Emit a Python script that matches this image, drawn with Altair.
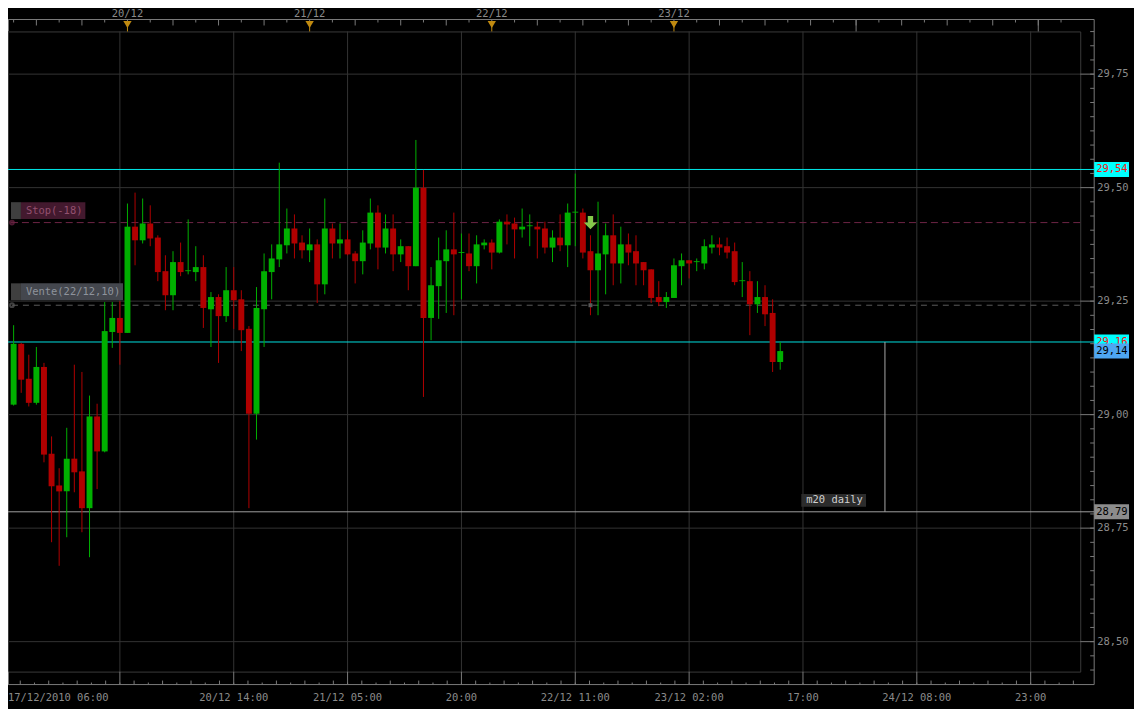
import altair as alt
import numpy as np
import pandas as pd

# ---------------- data ----------------
open_ = [29.022, 29.156, 29.079, 29.026, 29.105, 28.914, 28.844, 28.831, 28.903, 28.875,
         28.794, 28.996, 28.919, 29.182, 29.213, 29.180, 29.414, 29.384, 29.421, 29.390,
         29.316, 29.263, 29.336, 29.316, 29.314, 29.325, 29.232, 29.259, 29.217, 29.274,
         29.254, 29.189, 29.002, 29.232, 29.314, 29.342, 29.373, 29.410, 29.379, 29.362,
         29.375, 29.287, 29.410, 29.377, 29.386, 29.355, 29.338, 29.377, 29.445, 29.368,
         29.410, 29.353, 29.371, 29.327, 29.500, 29.213, 29.283, 29.338, 29.364, 29.356,
         29.355, 29.327, 29.373, 29.379, 29.357, 29.425, 29.421, 29.408, 29.415, 29.414,
         29.410, 29.368, 29.390, 29.373, 29.445, 29.445, 29.360, 29.318, 29.353, 29.395,
         29.333, 29.375, 29.360, 29.336, 29.320, 29.259, 29.248, 29.257, 29.327, 29.340,
         29.336, 29.333, 29.368, 29.375, 29.371, 29.360, 29.294, 29.294, 29.243, 29.259,
         29.224, 29.116]
high = [29.197, 29.158, 29.132, 29.149, 29.114, 28.952, 28.882, 28.971, 29.110, 29.094,
        29.042, 29.024, 29.248, 29.248, 29.250, 29.465, 29.489, 29.476, 29.461, 29.395,
        29.351, 29.360, 29.379, 29.430, 29.371, 29.351, 29.270, 29.265, 29.325, 29.325,
        29.274, 29.195, 29.281, 29.355, 29.375, 29.555, 29.454, 29.441, 29.395, 29.410,
        29.386, 29.476, 29.421, 29.421, 29.406, 29.360, 29.406, 29.476, 29.461, 29.441,
        29.441, 29.386, 29.371, 29.605, 29.539, 29.325, 29.390, 29.406, 29.445, 29.399,
        29.399, 29.395, 29.386, 29.386, 29.430, 29.441, 29.434, 29.454, 29.441, 29.425,
        29.425, 29.406, 29.441, 29.465, 29.531, 29.454, 29.395, 29.469, 29.421, 29.441,
        29.414, 29.399, 29.395, 29.336, 29.320, 29.294, 29.270, 29.344, 29.355, 29.340,
        29.344, 29.386, 29.395, 29.390, 29.390, 29.379, 29.336, 29.316, 29.294, 29.285,
        29.254, 29.160]
low = [29.020, 29.048, 29.018, 29.022, 28.895, 28.719, 28.667, 28.730, 28.829, 28.741,
       28.686, 28.836, 28.917, 29.147, 29.110, 29.180, 29.329, 29.377, 29.371, 29.294,
       29.230, 29.230, 29.305, 29.309, 29.294, 29.191, 29.149, 29.114, 29.204, 29.189,
       29.140, 28.794, 28.945, 29.149, 29.254, 29.325, 29.355, 29.344, 29.344, 29.336,
       29.246, 29.265, 29.344, 29.344, 29.351, 29.289, 29.309, 29.364, 29.320, 29.355,
       29.316, 29.336, 29.274, 29.327, 29.039, 29.164, 29.211, 29.224, 29.219, 29.254,
       29.316, 29.289, 29.364, 29.320, 29.355, 29.375, 29.344, 29.390, 29.371, 29.344,
       29.355, 29.336, 29.360, 29.325, 29.371, 29.344, 29.219, 29.219, 29.265, 29.285,
       29.289, 29.329, 29.285, 29.285, 29.246, 29.239, 29.235, 29.257, 29.285, 29.300,
       29.316, 29.320, 29.355, 29.351, 29.344, 29.285, 29.259, 29.175, 29.224, 29.195,
       29.094, 29.099]
close = [29.156, 29.077, 29.026, 29.105, 28.912, 28.842, 28.831, 28.903, 28.873, 28.794,
         28.996, 28.919, 29.184, 29.213, 29.180, 29.414, 29.384, 29.421, 29.388, 29.314,
         29.263, 29.336, 29.314, 29.318, 29.325, 29.235, 29.259, 29.217, 29.274, 29.252,
         29.186, 29.002, 29.235, 29.316, 29.344, 29.375, 29.410, 29.377, 29.362, 29.375,
         29.287, 29.410, 29.377, 29.386, 29.353, 29.338, 29.379, 29.445, 29.368, 29.410,
         29.353, 29.371, 29.327, 29.500, 29.213, 29.285, 29.340, 29.364, 29.353, 29.358,
         29.327, 29.375, 29.379, 29.357, 29.425, 29.419, 29.408, 29.414, 29.417, 29.408,
         29.368, 29.390, 29.373, 29.445, 29.447, 29.357, 29.318, 29.355, 29.395, 29.333,
         29.375, 29.357, 29.333, 29.318, 29.257, 29.248, 29.259, 29.329, 29.340, 29.333,
         29.338, 29.371, 29.375, 29.368, 29.357, 29.292, 29.296, 29.243, 29.259, 29.221,
         29.116, 29.140]

# time axis (candle index based, trading hours only)
grid_idx = [14, 29, 44, 59, 74, 89, 104, 119, 134]
bottom_labels = ["", "20/12 14:00", "21/12 05:00", "20:00", "22/12 11:00",
                 "23/12 02:00", "17:00", "24/12 08:00", "23:00"]
first_label = "17/12/2010 06:00"
day_idx = [15, 39, 63, 87]
day_labels = ["20/12", "21/12", "22/12", "23/12"]
future_day_idx = [111, 135]

price_ticks = [28.5, 28.75, 29.0, 29.25, 29.5, 29.75]

# horizontal levels
level_price = [29.54, 29.16, 28.786]
level_line = ["#00e8e8", "#00e0e0", "#a0a0a0"]
level_box = ["#00ffff", "#00ffff", "#8c8c8c"]
level_text = ["#ff1010", "#ff1010", "#000000"]

# orders
order_price = [29.423, 29.241]
order_label = ["Stop(-18)", "Vente(22/12,10)"]
order_line = ["#6e2446", "#5c5c5c"]
order_box = ["#43192e", "#44474e"]
order_text = ["#93506f", "#8e939c"]

signal_idx = [76]
signal_price = [29.423]
entry_idx = [76]
entry_price = [29.241]

m20_idx = [114.8]
m20_top = [29.16]
m20_bottom = [28.786]
m20_label = ["m20 daily"]

# ---------------- layout / style ----------------
W, H = 1077, 643
X_DOMAIN = [-0.74, 140.53]
Y_DOMAIN = [28.434, 29.844]
GREEN, RED = "#00b000", "#b00000"
AX = "#7a7a7a"
TXT = "#8a8a8a"
FONT = "DejaVu Sans Mono"
FS = 10.5

xs = alt.Scale(domain=X_DOMAIN, nice=False, zero=False)
ys = alt.Scale(domain=Y_DOMAIN, nice=False, zero=False)


def X(f="idx"):
    return alt.X(f"{f}:Q", scale=xs, axis=None)


def Y(f):
    return alt.Y(f"{f}:Q", scale=ys, axis=None)


def fmt(v):
    return f"{v:.2f}".replace(".", ",")


df = pd.DataFrame({"idx": np.arange(len(open_)), "o": open_, "h": high, "l": low, "c": close})
df["dir"] = np.where(df["c"] >= df["o"], "up", "down")
col = alt.Color("dir:N", scale=alt.Scale(domain=["up", "down"], range=[GREEN, RED]), legend=None)

layers = []

# horizontal grid + right axis labels
hgrid = pd.DataFrame({"p": price_ticks, "lab": [fmt(v) for v in price_ticks]})
layers.append(alt.Chart(hgrid).mark_rule(color="#333333", strokeWidth=1).encode(y=Y("p")))
layers.append(alt.Chart(hgrid).mark_text(font=FONT, fontSize=FS, color=TXT, align="left",
                                         baseline="middle").encode(
    x=alt.value(W + 17), y=Y("p"), text="lab:N"))
# vertical grid
vgrid = pd.DataFrame({"idx": grid_idx})
layers.append(alt.Chart(vgrid).mark_rule(color="#333333", strokeWidth=1).encode(x=X()))

# frame strips (top / bottom / right)
fr = alt.Chart(pd.DataFrame({"k": [0]}))
layers += [
    fr.mark_rule(color=AX).encode(x=alt.value(0), x2=alt.value(W + 14), y=alt.value(-12)),
    fr.mark_rule(color=AX).encode(x=alt.value(0), x2=alt.value(W + 14), y=alt.value(H + 13)),
    fr.mark_rule(color=AX).encode(x=alt.value(W + 14), y=alt.value(-12), y2=alt.value(H + 13)),
    fr.mark_rule(color=AX).encode(x=alt.value(0.5), y=alt.value(-12), y2=alt.value(0)),
    fr.mark_rule(color=AX).encode(x=alt.value(0.5), y=alt.value(H), y2=alt.value(H + 13)),
]

# top ticks (every 3 hours, longer every 6)
top_t = np.arange(-3, 141, 3)
top_df = pd.DataFrame({"idx": top_t, "major": ((top_t - 15) % 6 == 0).astype(int)})
top_df = top_df[(top_df.idx >= X_DOMAIN[0]) & (top_df.idx <= X_DOMAIN[1])]
layers.append(alt.Chart(top_df[top_df.major == 1]).mark_rule(color=AX).encode(
    x=X(), y=alt.value(-12), y2=alt.value(-6)))
layers.append(alt.Chart(top_df[top_df.major == 0]).mark_rule(color=AX).encode(
    x=X(), y=alt.value(-12), y2=alt.value(-9)))
fut = pd.DataFrame({"idx": future_day_idx})
layers.append(alt.Chart(fut).mark_rule(color=AX).encode(x=X(), y=alt.value(-12), y2=alt.value(0)))

days = pd.DataFrame({"idx": day_idx, "lab": day_labels})
layers.append(alt.Chart(days).mark_rule(color="#c08a10").encode(x=X(), y=alt.value(-6), y2=alt.value(0)))
layers.append(alt.Chart(days).mark_point(shape="triangle-down", filled=True, size=70,
                                         color="#c08a10", opacity=1).encode(x=X(), y=alt.value(-7)))
layers.append(alt.Chart(days).mark_text(font=FONT, fontSize=FS, color=TXT, baseline="middle").encode(
    x=X(), y=alt.value(-17.5), text="lab:N"))

# bottom ticks
bt = np.arange(-1, 141, 15 / 8)
bt_df = pd.DataFrame({"idx": bt, "k": np.arange(len(bt)) % 2})
bt_df = bt_df[(bt_df.idx >= X_DOMAIN[0]) & (bt_df.idx <= X_DOMAIN[1])]
layers.append(alt.Chart(bt_df[bt_df.k == 1]).mark_rule(color=AX).encode(
    x=X(), y=alt.value(H + 9), y2=alt.value(H + 13)))
layers.append(alt.Chart(bt_df[bt_df.k == 0]).mark_rule(color=AX).encode(
    x=X(), y=alt.value(H + 11), y2=alt.value(H + 13)))
layers.append(alt.Chart(vgrid).mark_rule(color=AX).encode(x=X(), y=alt.value(H), y2=alt.value(H + 13)))
blab = pd.DataFrame({"idx": grid_idx, "lab": bottom_labels})
blab = blab[blab.lab != ""]
layers.append(alt.Chart(blab).mark_text(font=FONT, fontSize=FS, color=TXT, baseline="middle").encode(
    x=X(), y=alt.value(H + 27), text="lab:N"))
flab = pd.DataFrame({"idx": [X_DOMAIN[0]], "lab": [first_label]})
layers.append(alt.Chart(flab).mark_text(font=FONT, fontSize=FS, color=TXT, baseline="middle",
                                        align="left").encode(x=X(), y=alt.value(H + 27), text="lab:N"))

# right ticks
rt = np.arange(28.4375, 29.85, 0.03125)
rt_df = pd.DataFrame({"p": rt})
rt_df = rt_df[(rt_df.p >= Y_DOMAIN[0]) & (rt_df.p <= Y_DOMAIN[1])]
layers.append(alt.Chart(rt_df).mark_rule(color=AX).encode(
    y=Y("p"), x=alt.value(W + 10), x2=alt.value(W + 14)))
layers.append(alt.Chart(hgrid).mark_rule(color=AX).encode(
    y=Y("p"), x=alt.value(W), x2=alt.value(W + 14)))

# order lines (stop / vente)
for p, lab, lc, bc, tc, dash, yo in zip(order_price, order_label, order_line, order_box, order_text,
                                        [[7, 4], [6, 5]], [-12, -13.5]):
    od = pd.DataFrame({"p": [p], "lab": [lab]})
    oc = alt.Chart(od)
    bw = len(lab) * 6.3 + 8
    layers += [
        oc.mark_rule(color=lc, strokeDash=dash, strokeWidth=1).encode(y=Y("p")),
        oc.mark_point(shape="circle", size=14, color=lc, filled=False).encode(x=alt.value(4), y=Y("p")),
        oc.mark_rule(color="#3f3f3f", strokeWidth=17, yOffset=yo).encode(
            x=alt.value(3), x2=alt.value(13), y=Y("p")),
        oc.mark_rule(color=bc, strokeWidth=17, yOffset=yo).encode(
            x=alt.value(13), x2=alt.value(13 + bw), y=Y("p")),
        oc.mark_text(font=FONT, fontSize=FS, color=tc, align="left", baseline="middle", dy=yo).encode(
            x=alt.value(18), y=Y("p"), text="lab:N"),
    ]

# level lines
lv = pd.DataFrame({"p": level_price, "lc": level_line, "bc": level_box, "tc": level_text,
                   "lab": [fmt(v) for v in level_price]})
layers.append(alt.Chart(lv).mark_rule(strokeWidth=1).encode(
    x=alt.value(0), x2=alt.value(W + 14), y=Y("p"), color=alt.Color("lc:N", scale=None)))

# m20 daily marker
m20 = pd.DataFrame({"idx": m20_idx, "top": m20_top, "bot": m20_bottom, "lab": m20_label})
mc = alt.Chart(m20)
layers += [
    mc.mark_rule(color="#a8a8a8").encode(x=X(), y=Y("top"), y2="bot"),
    mc.mark_rule(color="#2c2c2c", strokeWidth=13, yOffset=-11.5, xOffset=-84, x2Offset=-19).encode(
        x=X(), x2="idx", y=Y("bot")),
    mc.mark_text(font=FONT, fontSize=FS, color="#d0d0d0", align="left", baseline="middle",
                 dx=-79, dy=-11.5).encode(x=X(), y=Y("bot"), text="lab:N"),
]

# candles
layers.append(alt.Chart(df).mark_rule(strokeWidth=1).encode(x=X(), y=Y("l"), y2="h", color=col))
layers.append(alt.Chart(df).transform_calculate(x0="datum.idx - 0.39", x1="datum.idx + 0.39")
              .mark_rect().encode(x=X("x0"), x2="x1", y=Y("o"), y2="c", color=col))

# signal arrow and entry point
sig = pd.DataFrame({"idx": signal_idx, "p": signal_price})
layers.append(alt.Chart(sig).mark_point(
    shape="M-0.4,-1L0.4,-1L0.4,0L1,0L0,1L-1,0L-0.4,0Z", filled=True, size=180,
    color="#84c84a", opacity=1).encode(x=X(), y=Y("p")))
ent = pd.DataFrame({"idx": entry_idx, "p": entry_price})
layers.append(alt.Chart(ent).mark_square(size=16, color="#5a5a5a", opacity=1).encode(x=X(), y=Y("p")))

# right-side price boxes
last = pd.DataFrame({"p": [close[-1]], "bc": ["#4ea6f2"], "tc": ["#000000"], "lab": [fmt(close[-1])]})
for d in [lv, last]:
    ch = alt.Chart(d)
    layers += [
        ch.mark_rule(strokeWidth=15).encode(x=alt.value(W + 14), x2=alt.value(W + 49), y=Y("p"),
                                            color=alt.Color("bc:N", scale=None)),
        ch.mark_text(font=FONT, fontSize=FS, align="left", baseline="middle").encode(
            x=alt.value(W + 16), y=Y("p"), text="lab:N", color=alt.Color("tc:N", scale=None)),
    ]

chart = alt.layer(*layers).properties(
    width=W, height=H, background="#000000",
    padding={"left": 0, "top": 22, "right": 54, "bottom": 36},
    autosize=alt.AutoSizeParams(type="none"),
).configure_view(stroke="#3a3a3a")

chart.save("out.html", embed_options={"renderer": "svg", "actions": False})
